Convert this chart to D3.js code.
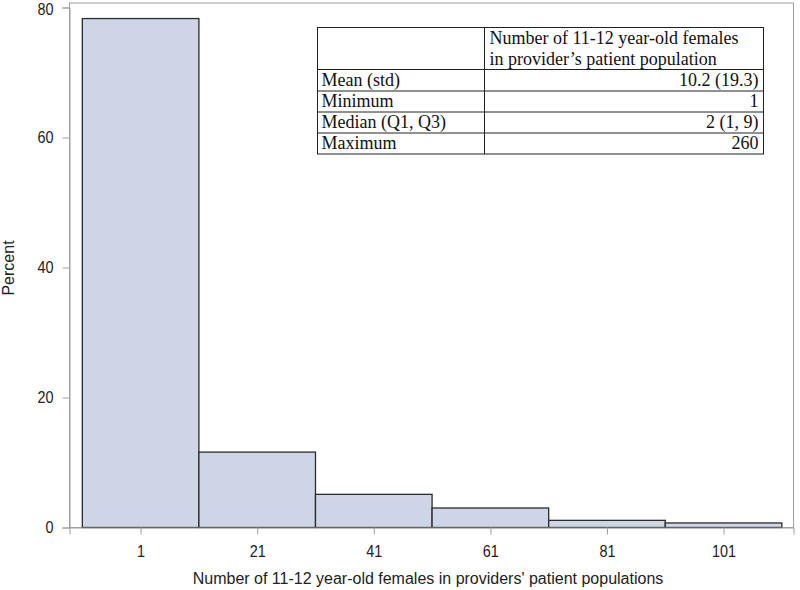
<!DOCTYPE html>
<html><head><meta charset="utf-8">
<script src="https://cdn.jsdelivr.net/npm/d3@7"></script>
<style>body{margin:0;background:#fff}</style>
</head><body>
<svg id="c" width="800" height="590"></svg>
<script>
const binStarts = [-9, 11, 31, 51, 71, 91];
const binWidth = 20;
const percents = [78.3, 11.6, 5.1, 3.0, 1.1, 0.7];
const xTicks = [1, 21, 41, 61, 81, 101];
const yTicks = [0, 20, 40, 60, 80];
const tableHeader = ["Number of 11-12 year-old females", "in provider\u2019s patient population"];
const rowLabels = ["Mean (std)", "Minimum", "Median (Q1, Q3)", "Maximum"];
const rowValues = ["10.2 (19.3)", "1", "2 (1, 9)", "260"];

const svg = d3.select("#c");
const L = 69.5, R = 793.5, T = 3, B = 527.5;
const x = d3.scaleLinear().domain([-11.2, 113]).range([L, R]);
const y = d3.scaleLinear().domain([0, 80]).range([B, 7.5]);
const SANS = "'Liberation Sans', Arial, sans-serif";

svg.append("rect").attr("x", L).attr("y", T).attr("width", R - L).attr("height", B - T)
  .attr("fill", "none").attr("stroke", "#a0a0a0").attr("stroke-width", 1);

svg.selectAll("rect.bar").data(percents).enter().append("rect").attr("class", "bar")
  .attr("x", (d, i) => x(binStarts[i]))
  .attr("width", (d, i) => x(binStarts[i] + binWidth) - x(binStarts[i]))
  .attr("y", d => y(d))
  .attr("height", d => y(0) - y(d))
  .attr("fill", "#cdd5e6").attr("stroke", "#2b2b2b").attr("stroke-width", 1.3);

const yAxis = d3.axisLeft(y).tickValues(yTicks).tickSize(7).tickPadding(9);
const gy = svg.append("g").attr("transform", `translate(${L},0)`).call(yAxis);
const xAxis = d3.axisBottom(x).tickValues(xTicks).tickSize(7).tickPadding(11);
const gx = svg.append("g").attr("transform", `translate(0,${B})`).call(xAxis);
[gy, gx].forEach(g => {
  g.select(".domain").attr("stroke", "#a0a0a0");
  g.selectAll(".tick line").attr("stroke", "#a0a0a0");
  g.selectAll(".tick text").attr("fill", "#222").style("font-family", SANS).style("font-size", "16px");
});
gx.selectAll(".tick text").attr("transform", "scale(0.9,1)");
gy.selectAll(".tick text").attr("x", 0).attr("transform", "translate(-16,0) scale(0.9,1)")
  .attr("dy", d => d === 80 ? "0.42em" : "0.32em");

svg.append("text").attr("x", 428).attr("y", 584).attr("text-anchor", "middle")
  .style("font-family", SANS).style("font-size", "16px").attr("fill", "#222")
  .text("Number of 11-12 year-old females in providers' patient populations");
svg.append("text").attr("transform", "translate(14,268) rotate(-90)").attr("text-anchor", "middle")
  .style("font-family", SANS).style("font-size", "16px").attr("fill", "#222")
  .text("Percent");

const tL = 317.5, tR = 763.5, tD = 484.5, tT = 27.5, hB = 69.5;
const rowLines = [hB, 91, 112, 133, 154];
const tg = svg.append("g").style("font-family", "'Liberation Serif', 'Times New Roman', serif").style("font-size", "18px").attr("fill", "#111");
tg.append("rect").attr("x", tL).attr("y", tT).attr("width", tR - tL).attr("height", 154 - tT)
  .attr("fill", "#fff").attr("stroke", "#222").attr("stroke-width", 1);
tg.append("line").attr("x1", tD).attr("x2", tD).attr("y1", tT).attr("y2", 154).attr("stroke", "#222");
rowLines.slice(0, 4).forEach(yy => tg.append("line").attr("x1", tL).attr("x2", tR).attr("y1", yy).attr("y2", yy).attr("stroke", "#222"));
tableHeader.forEach((t, i) => tg.append("text").attr("x", tD + 5).attr("y", 44 + i * 21).text(t));
rowLabels.forEach((t, i) => {
  tg.append("text").attr("x", tL + 4).attr("y", rowLines[i] + 16).text(t);
  tg.append("text").attr("x", tR - 5).attr("y", rowLines[i] + 16).attr("text-anchor", "end").text(rowValues[i]);
});
</script>
</body></html>
